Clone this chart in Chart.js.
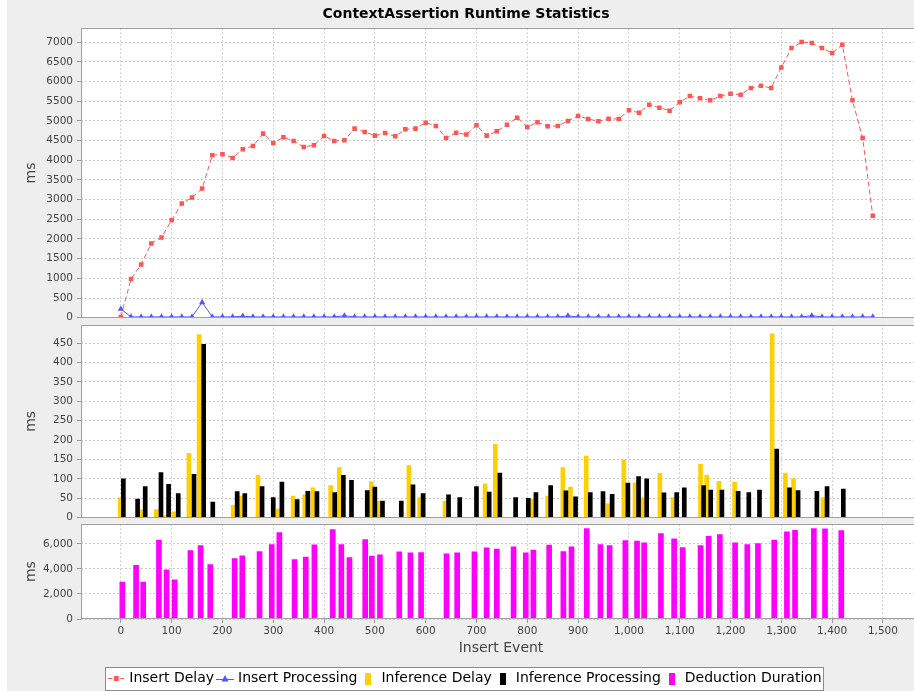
<!DOCTYPE html>
<html>
<head>
<meta charset="utf-8">
<title>ContextAssertion Runtime Statistics</title>
<script src="https://cdn.jsdelivr.net/npm/chart.js@4.4.1/dist/chart.umd.min.js"></script>
<style>
  html, body { margin: 0; padding: 0; background: #ffffff; overflow: hidden; }
  body { width: 914px; height: 691px; position: relative; }
  #chartBox { position: absolute; left: 7px; top: 0; width: 918px; height: 696px; }
  canvas { display: block; }
</style>
</head>
<body>
<div id="chartBox"><canvas id="chart" width="918" height="696"></canvas></div>
<script>
// ---------------- data ----------------
const chartTitle = 'ContextAssertion Runtime Statistics';
const xAxisTitle = 'Insert Event';
const yAxisTitle = 'ms';
const seriesNames = ['Insert Delay', 'Insert Processing', 'Inference Delay', 'Inference Processing', 'Deduction Duration'];

// tick values
const eventTicks = [0, 100, 200, 300, 400, 500, 600, 700, 800, 900, 1000, 1100, 1200, 1300, 1400, 1500];
const insertTicks = [0, 500, 1000, 1500, 2000, 2500, 3000, 3500, 4000, 4500, 5000, 5500, 6000, 6500, 7000];
const inferenceTicks = [0, 50, 100, 150, 200, 250, 300, 350, 400, 450];
const deductionTicks = [0, 2000, 4000, 6000];

const insertEvents = [0, 20, 40, 60, 80, 100, 120, 140, 160, 180, 200, 220, 240, 260, 280, 300, 320, 340, 360, 380,
  400, 420, 440, 460, 480, 500, 520, 540, 560, 580, 600, 620, 640, 660, 680, 700, 720, 740, 760, 780,
  800, 820, 840, 860, 880, 900, 920, 940, 960, 980, 1000, 1020, 1040, 1060, 1080, 1100, 1120, 1140, 1160, 1180,
  1200, 1220, 1240, 1260, 1280, 1300, 1320, 1340, 1360, 1380, 1400, 1420, 1440, 1460, 1480];

const insertDelay = [20, 981, 1353, 1885, 2037, 2477, 2900, 3052, 3280, 4125,
  4151, 4058, 4278, 4362, 4675, 4438, 4582, 4489, 4337, 4379,
  4616, 4489, 4506, 4802, 4717, 4624, 4692, 4607, 4785, 4802,
  4954, 4870, 4565, 4700, 4650, 4886, 4624, 4734, 4903, 5081,
  4844, 4962, 4861, 4870, 4996, 5123, 5047, 4988, 5055, 5047,
  5267, 5208, 5411, 5334, 5258, 5470, 5630, 5571, 5520, 5630,
  5690, 5664, 5833, 5892, 5833, 6357, 6848, 7000, 6975, 6848,
  6721, 6932, 5520, 4565, 2587];

const insertProcessing = [220, 20, 20, 20, 20, 20, 20, 20, 390, 20,
  20, 20, 40, 20, 20, 20, 20, 20, 20, 20,
  20, 20, 50, 20, 20, 20, 20, 20, 20, 20,
  20, 20, 20, 20, 20, 20, 20, 20, 20, 20,
  20, 20, 20, 20, 45, 20, 20, 20, 20, 20,
  20, 20, 20, 20, 20, 20, 20, 20, 20, 20,
  20, 20, 20, 20, 20, 20, 20, 20, 50, 20,
  20, 20, 20, 20, 20];

const inferenceDelayX = [-1, 41, 70, 86, 104, 134, 154, 221, 236, 270,
  310, 339, 362, 378, 413, 430, 493, 509, 567, 588,
  638, 717, 737, 808, 840, 870, 885, 916, 959, 990,
  1012, 1028, 1061, 1087, 1141, 1153, 1177, 1208, 1282, 1308,
  1324, 1382];
const inferenceDelayMs = [52, 20, 21, 5, 15, 166, 472, 32, 56, 109,
  22, 56, 59, 77, 83, 129, 93, 43, 134, 52,
  43, 87, 189, 48, 56, 129, 79, 159, 36, 149,
  90, 51, 114, 52, 138, 110, 94, 92, 474, 115,
  101, 52];

const inferenceProcX = [5, 33, 48, 79, 94, 113, 144, 163, 181, 229,
  244, 278, 300, 317, 347, 368, 386, 421, 438, 454,
  485, 500, 515, 552, 575, 595, 645, 667, 700, 725,
  746, 777, 802, 817, 846, 876, 895, 924, 949, 967,
  998, 1019, 1035, 1069, 1094, 1109, 1147, 1161, 1183, 1215,
  1236, 1257, 1291, 1316, 1333, 1370, 1390, 1422];
const inferenceProcMs = [100, 48, 80, 116, 86, 62, 112, 447, 40, 67,
  62, 80, 52, 92, 47, 68, 67, 65, 109, 96,
  70, 79, 43, 43, 85, 62, 59, 52, 80, 66,
  115, 52, 50, 65, 83, 69, 54, 65, 67, 60,
  89, 106, 100, 64, 65, 77, 83, 71, 71, 68,
  65, 71, 177, 77, 70, 68, 80, 74];

const deductionX = [3, 30, 44, 75, 90, 106, 137, 157, 176, 224,
  239, 273, 297, 312, 342, 364, 381, 417, 434, 450,
  481, 494, 510, 548, 570, 591, 641, 662, 696, 720,
  740, 773, 797, 812, 843, 871, 887, 917, 944, 962,
  993, 1016, 1030, 1063, 1089, 1106, 1141, 1157, 1179, 1209,
  1233, 1254, 1286, 1311, 1327, 1364, 1386, 1418];
const deductionMs = [2950, 4300, 2950, 6300, 3930, 3130, 5470, 5870, 4360, 4830,
  5050, 5390, 5950, 6900, 4750, 4940, 5920, 7140, 5950, 4910,
  6350, 5020, 5130, 5370, 5290, 5310, 5210, 5290, 5370, 5680,
  5580, 5760, 5290, 5500, 5900, 5390, 5760, 7220, 5950, 5870,
  6270, 6220, 6080, 6830, 6400, 5710, 5870, 6610, 6750, 6080,
  5950, 6030, 6300, 6960, 7090, 7220, 7200, 7070];

// ---------------- styles ----------------
const FONT = '"DejaVu Sans", "Liberation Sans", sans-serif';
const RED = 'rgb(255,85,85)';
const BLUE = 'rgb(85,85,255)';
const YELLOW = 'rgb(255,208,0)';
const BLACK = '#000000';
const MAGENTA = '#ff00ff';
const BG = '#eeeeee';
const OUTLINE = '#a0a0a0';

Chart.defaults.font.family = FONT;

function makeIcon(w, h, draw) {
  const c = document.createElement('canvas');
  c.width = w; c.height = h;
  draw(c.getContext('2d'), w, h);
  return c;
}
const legendIcons = [
  makeIcon(16, 9, (g) => {
    g.strokeStyle = RED; g.lineWidth = 1;
    g.beginPath(); g.moveTo(0, 4.5); g.lineTo(4, 4.5); g.moveTo(12, 4.5); g.lineTo(16, 4.5); g.stroke();
    g.fillStyle = RED; g.fillRect(5.5, 2, 5, 5);
  }),
  makeIcon(18, 9, (g) => {
    g.strokeStyle = BLUE; g.lineWidth = 1;
    g.beginPath(); g.moveTo(0, 5.5); g.lineTo(18, 5.5); g.stroke();
    g.fillStyle = BLUE;
    g.beginPath(); g.moveTo(9, 1); g.lineTo(12.5, 7.5); g.lineTo(5.5, 7.5); g.closePath(); g.fill();
  }),
  makeIcon(6, 12, (g) => { g.fillStyle = YELLOW; g.fillRect(0, 0, 6, 12); }),
  makeIcon(6, 12, (g) => { g.fillStyle = BLACK; g.fillRect(0, 0, 6, 12); }),
  makeIcon(6, 12, (g) => { g.fillStyle = MAGENTA; g.fillRect(0, 0, 6, 12); })
];

const gridBase = { color: '#cdcdcd', lineWidth: 1, offset: false, drawTicks: true, tickLength: 4, tickColor: '#9a9a9a', tickWidth: 1, tickBorderDash: [] };
const borderBase = { display: false, dash: [2, 2] };
const tickFont = { family: FONT, size: 10.5 };
const axisTitleFont = { family: FONT, size: 14 };
const fixTicks = (values) => (scale) => { scale.ticks = values.map((v) => ({ value: v })); };
const plainFmt = (v) => String(v);
const groupedFmt = (v) => Number(v).toLocaleString('en-US');

function valueAxis(weight, max, tickValues, fmt) {
  return {
    type: 'linear', position: 'left', stack: 'panels', stackWeight: weight,
    min: 0, max: max, offset: false, beginAtZero: true,
    ticks: { autoSkip: false, font: tickFont, color: '#444444', padding: 4, callback: fmt },
    afterBuildTicks: fixTicks(tickValues),
    grid: gridBase,
    border: borderBase,
    title: { display: true, text: yAxisTitle, font: axisTitleFont, color: '#444444', padding: { top: 16.3, bottom: 0 } },
    afterFit: (s) => { s.width = 74; }
  };
}
function spacerAxis(weight) {
  return {
    type: 'linear', position: 'left', stack: 'panels', stackWeight: weight, display: true,
    ticks: { display: false }, grid: { display: false, drawTicks: false }, border: { display: false },
    afterFit: (s) => { s.width = 74; }
  };
}

const panelIds = ['yIns', 'yInf', 'yDed'];
const gapIds = ['gap1', 'gap2'];

const panelPlugin = {
  id: 'panels',
  beforeDraw(chart) {
    const { ctx, chartArea } = chart;
    ctx.save();
    ctx.fillStyle = BG;
    ctx.fillRect(0, 0, chart.width, chart.height);
    ctx.fillStyle = '#ffffff';
    panelIds.forEach((id) => {
      const s = chart.scales[id];
      ctx.fillRect(chartArea.left, s.top, chartArea.right - chartArea.left, s.bottom - s.top);
    });
    const lg = chart.legend;
    if (lg && lg.legendHitBoxes && lg.legendHitBoxes.length) {
      const hb = lg.legendHitBoxes;
      const l = Math.min(...hb.map(b => b.left)) - 5;
      const r = Math.max(...hb.map(b => b.left + b.width)) + 3;
      const t = hb[0].top - 5;
      const h = 24;
      ctx.fillStyle = '#ffffff';
      ctx.fillRect(Math.round(l), Math.round(t), Math.round(r - l), h);
      ctx.strokeStyle = '#8a8a8a';
      ctx.lineWidth = 1;
      ctx.strokeRect(Math.round(l) + 0.5, Math.round(t) + 0.5, Math.round(r - l) - 1, h - 1);
    }
    ctx.restore();
  },
  beforeDatasetsDraw(chart) {
    const { ctx, chartArea } = chart;
    ctx.save();
    ctx.fillStyle = BG;
    gapIds.forEach((id) => {
      const s = chart.scales[id];
      ctx.fillRect(chartArea.left, s.top, chartArea.right - chartArea.left, s.bottom - s.top);
    });
    ctx.restore();
  },
  afterDatasetsDraw(chart) {
    const { ctx, chartArea } = chart;
    ctx.save();
    ctx.strokeStyle = OUTLINE;
    ctx.lineWidth = 1;
    panelIds.forEach((id) => {
      const s = chart.scales[id];
      const x0 = Math.round(chartArea.left) + 0.5;
      const y0 = Math.round(s.top) + 0.5;
      const x1 = Math.round(chartArea.right) - 0.5;
      const y1 = Math.round(s.bottom) - 0.5;
      ctx.strokeRect(x0, y0, x1 - x0, y1 - y0);
    });
    ctx.restore();
  }
};

const toPoints = (xs, ys) => xs.map((x, i) => ({ x: x, y: ys[i] }));

new Chart(document.getElementById('chart'), {
  type: 'line',
  data: {
    datasets: [
      {
        type: 'line', label: seriesNames[0], data: toPoints(insertEvents, insertDelay),
        xAxisID: 'x', yAxisID: 'yIns', order: 2,
        borderColor: RED, backgroundColor: RED, borderWidth: 1, borderDash: [5, 3],
        pointStyle: 'rect', pointRadius: 3.2, pointBorderWidth: 0,
        pointBackgroundColor: RED, pointBorderColor: RED, tension: 0, fill: false, clip: 0
      },
      {
        type: 'line', label: seriesNames[1], data: toPoints(insertEvents, insertProcessing),
        xAxisID: 'x', yAxisID: 'yIns', order: 1,
        borderColor: BLUE, backgroundColor: BLUE, borderWidth: 1,
        pointStyle: 'triangle', pointRadius: 3.6, pointBorderWidth: 0,
        pointBackgroundColor: BLUE, pointBorderColor: BLUE, tension: 0, fill: false, clip: 0
      },
      {
        type: 'bar', label: seriesNames[2], data: toPoints(inferenceDelayX, inferenceDelayMs),
        xAxisID: 'x', yAxisID: 'yInf', order: 4,
        backgroundColor: YELLOW, borderWidth: 0, barThickness: 4, grouped: false, clip: 0
      },
      {
        type: 'bar', label: seriesNames[3], data: toPoints(inferenceProcX, inferenceProcMs),
        xAxisID: 'x', yAxisID: 'yInf', order: 3,
        backgroundColor: BLACK, borderWidth: 0, barThickness: 4, grouped: false, clip: 0
      },
      {
        type: 'bar', label: seriesNames[4], data: toPoints(deductionX, deductionMs),
        xAxisID: 'x', yAxisID: 'yDed', order: 5,
        backgroundColor: MAGENTA, borderWidth: 0, barThickness: 5, grouped: false, clip: 0
      }
    ]
  },
  options: {
    responsive: false,
    devicePixelRatio: 1,
    animation: false,
    events: [],
    layout: { padding: { left: 0, right: 0, top: 0, bottom: 0.5 } },
    scales: {
      x: {
        type: 'linear', position: 'bottom', min: -78.4, max: 1574.9, offset: false,
        ticks: {
          autoSkip: false, maxRotation: 0, minRotation: 0,
          font: tickFont, color: '#444444', padding: 2, callback: groupedFmt
        },
        afterBuildTicks: fixTicks(eventTicks),
        grid: gridBase,
        border: borderBase,
        title: { display: true, text: xAxisTitle, font: axisTitleFont, color: '#444444', padding: { top: 0, bottom: 9.8 } },
        afterFit: (s) => { s.height = 47.5; }
      },
      yDed: valueAxis(94.7, 7570, deductionTicks, groupedFmt),
      gap2: spacerAxis(6.6),
      yInf: valueAxis(192.7, 496.5, inferenceTicks, plainFmt),
      gap1: spacerAxis(7.3),
      yIns: valueAxis(289.4, 7350, insertTicks, plainFmt)
    },
    plugins: {
      title: {
        display: true, text: chartTitle, color: '#000000',
        font: { family: FONT, size: 14, weight: 'bold' },
        padding: { top: 5.6, bottom: 5.9 }
      },
      legend: {
        display: true, position: 'bottom', align: 'center',
        labels: {
          usePointStyle: true, boxWidth: 12, boxHeight: 14, padding: 5,
          color: '#000000', font: { family: FONT, size: 14 },
          generateLabels: (chart) => chart.data.datasets.map((ds, i) => ({
            text: ds.label, datasetIndex: i, pointStyle: legendIcons[i],
            fillStyle: 'rgba(0,0,0,0)', strokeStyle: 'rgba(0,0,0,0)', lineWidth: 0,
            hidden: false, fontColor: '#000000'
          }))
        }
      },
      tooltip: { enabled: false }
    }
  },
  plugins: [panelPlugin]
});
</script>
</body>
</html>
